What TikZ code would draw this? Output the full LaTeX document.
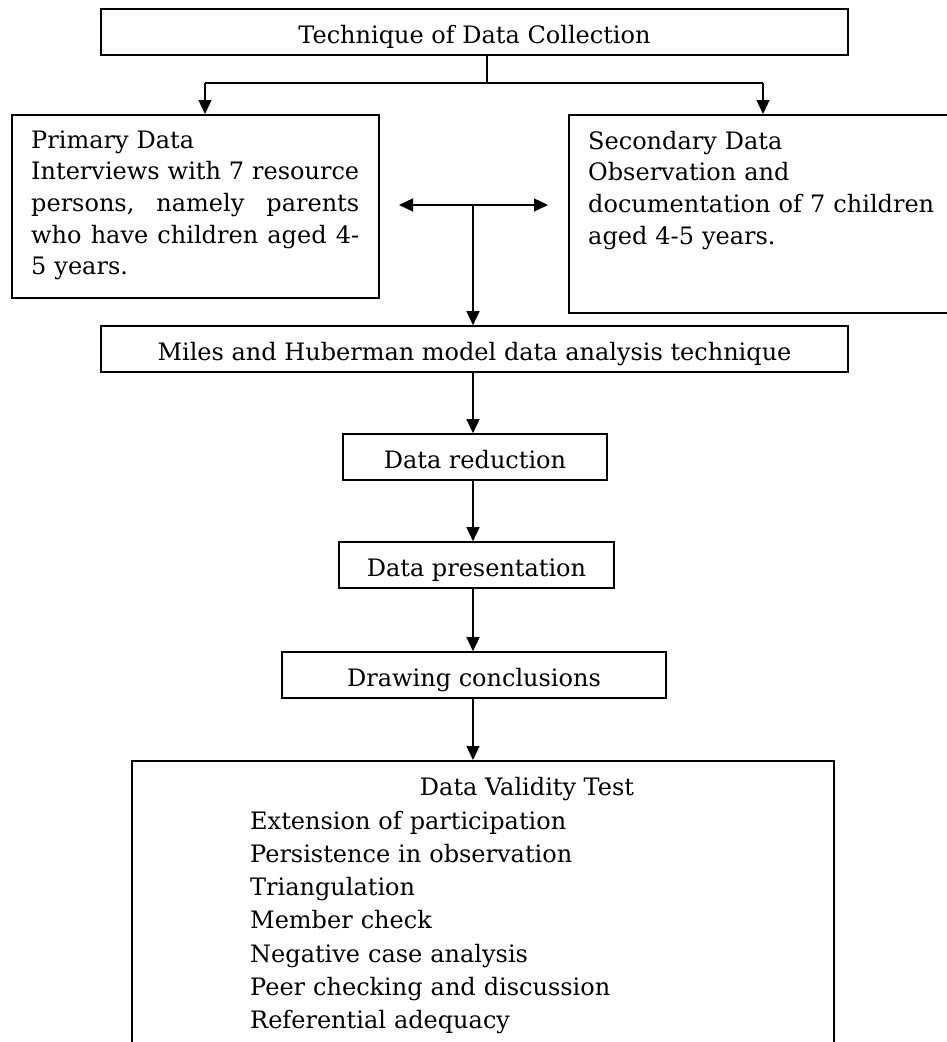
\documentclass[tikz,border=0pt]{standalone}
\usepackage{tikz}
\usepackage{fontspec}
\setmainfont{DejaVu Serif}
\usetikzlibrary{arrows.meta,shadows}
\newcommand{\bodyfont}{\fontsize{24pt}{31.7pt}\selectfont}

\begin{document}
\begin{tikzpicture}[x=1pt,y=-1pt,
	box/.style={draw,fill=white,line width=1.6pt,inner sep=0pt,minimum height=46pt,text height=23pt,text depth=0pt,font=\bodyfont,
		drop shadow={shadow xshift=1pt,shadow yshift=-1pt,fill=gray!70,opacity=1}},
	txt/.style={inner sep=0pt,font=\bodyfont,align=left},
	arr/.style={-{Triangle[length=14pt,width=13pt]},line width=1.3pt}]
	\useasboundingbox (0,0) rectangle (946,1042);
	\node[box,minimum width=747pt] (tech) at (474.5,32) {Technique of Data Collection};
	\node[box,anchor=north west,minimum width=367pt,minimum height=183pt] (prim) at (11,114) {};
	\node[box,anchor=north west,minimum width=400pt,minimum height=198pt] (sec) at (568,114) {};
	\node[txt,anchor=base west,text width=328pt] (primtxt) at (31,148) {Primary Data\\
		\makebox[328pt][s]{Interviews\hfill with\hfill 7\hfill resource}\\
		\makebox[328pt][s]{persons,\hfill namely\hfill parents}\\
		\makebox[328pt][s]{who\hfill have\hfill children\hfill aged\hfill 4-}\\
		5 years.};
	\node[txt,anchor=base west,text width=346pt] (sectxt) at (588,149) {Secondary Data\\
		Observation and\\
		\makebox[346pt][s]{documentation\hfill of\hfill 7\hfill children}\\
		aged 4-5 years.};
	\coordinate (split) at (487,83);
	\coordinate (lsplit) at (205,83);
	\coordinate (rsplit) at (763,83);
	\draw[line width=1.3pt] (tech.south -| split) -- (split) (lsplit) -- (rsplit);
	\draw[arr] (lsplit) -- (lsplit |- prim.north);
	\draw[arr] (rsplit) -- (rsplit |- sec.north);
	\coordinate (dl) at (399,205);
	\coordinate (dr) at (548,205);
	\coordinate (mid) at (473,205);
	\draw[line width=1.3pt,{Triangle[length=14pt,width=13pt]}-{Triangle[length=14pt,width=13pt]}] (dl) -- (dr);
	\node[box,minimum width=747pt] (miles) at (474.5,349) {Miles and Huberman model data analysis technique};
	\node[box,minimum width=264pt] (reduce) at (475,457) {Data reduction};
	\node[box,minimum width=275pt] (present) at (476.5,565) {Data presentation};
	\node[box,minimum width=384pt] (concl) at (474,675) {Drawing conclusions};
	\node[box,anchor=north west,minimum width=702pt,minimum height=300pt] (valid) at (131,760) {};
	\node[txt,anchor=base] (validtitle) at (527,795) {Data Validity Test};
	\node[txt,anchor=base west,text width=500pt,font=\fontsize{24pt}{33.3pt}\selectfont] (validlist) at (250,829) {Extension of participation\\
		Persistence in observation\\
		Triangulation\\
		Member check\\
		Negative case analysis\\
		Peer checking and discussion\\
		Referential adequacy};
	\draw[arr] (mid) -- (mid |- miles.north);
	\draw[arr] (miles.south -| mid) -- (reduce.north -| mid);
	\draw[arr] (reduce.south -| mid) -- (present.north -| mid);
	\draw[arr] (present.south -| mid) -- (concl.north -| mid);
	\draw[arr] (concl.south -| mid) -- (valid.north -| mid);
\end{tikzpicture}
\end{document}
